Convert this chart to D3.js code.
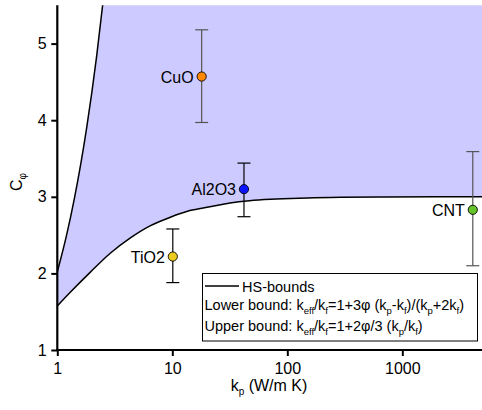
<!DOCTYPE html>
<html lang="en">
<head>
    <meta charset="UTF-8">
    <title>HS bounds</title>
    <script src="https://cdn.jsdelivr.net/npm/d3@7"></script>
    <style>
        body { margin: 0; background: #fff; }
        text { font-family: "Liberation Sans", Arial, sans-serif; fill: #000; }
    </style>
</head>
<body>
    <script>
        // lower HS bound
        var lowerKp = [1, 1.29, 1.92, 2.87, 4.29, 6.4, 9.5, 14.2, 21.2, 31.7, 47, 80, 150, 300, 700, 2000, 5000];
        var lowerC = [1.575, 1.75, 2.01, 2.26, 2.46, 2.62, 2.73, 2.82, 2.87, 2.92, 2.95, 2.97, 2.985, 2.993, 2.997, 3.0, 3.0];

        // upper HS bound
        var upperKp = [1, 1.2, 1.4, 1.6, 1.8, 2.0, 2.2, 2.5];
        var upperC = [2.02, 2.49, 2.96, 3.43, 3.9, 4.37, 4.84, 5.55];

        // measured points
        var names = ['CuO', 'Al2O3', 'TiO2', 'CNT'];
        var kp = [18, 42, 10.1, 4100];
        var cphi = [4.57, 3.1, 2.22, 2.83];
        var errHigh = [5.18, 3.44, 2.58, 3.59];
        var errLow = [3.97, 2.74, 1.88, 2.1];
        var colors = ['#ff8800', '#0a14ff', '#eacb1e', '#66c42a'];
        var barColors = ['#555', '#000', '#000', '#555'];

        var yTicks = [1, 2, 3, 4, 5];
        var xTicks = [1, 10, 100, 1000];

        var w = 482, h = 410;

        var x = d3.scaleLog().domain([1, 5000]).range([57.3, 482.7]);
        var y = d3.scaleLinear().domain([1, 5.5]).range([350, 5.3]);

        var svg = d3.select('body').append('svg')
            .attr('width', w)
            .attr('height', h);

        svg.append('clipPath').attr('id', 'plot')
            .append('rect')
            .attr('x', x(1)).attr('y', y(5.5))
            .attr('width', x(5000) - x(1)).attr('height', y(1) - y(5.5));

        var lower = lowerKp.map(function(d, i) { return [d, lowerC[i]]; });
        var upper = upperKp.map(function(d, i) { return [d, upperC[i]]; });

        var line = d3.line()
            .x(function(d) { return x(d[0]); })
            .y(function(d) { return y(d[1]); })
            .curve(d3.curveMonotoneX);

        var g = svg.append('g').attr('clip-path', 'url(#plot)');

        // shaded region between the bounds
        var upPath = line(upper);
        var lowPath = line(lower.slice().reverse());
        g.append('path')
            .attr('d', upPath + 'L' + x(5000) + ',' + y(5.6) + 'L' + lowPath.slice(1) + 'Z')
            .attr('fill', '#cdcaff')
            .attr('stroke', 'none');

        g.append('path').attr('d', line(lower))
            .attr('fill', 'none').attr('stroke', '#000').attr('stroke-width', 1.5);
        g.append('path').attr('d', line(upper))
            .attr('fill', 'none').attr('stroke', '#000').attr('stroke-width', 1.5);

        //axes
        var xMinor = [];
        [1, 10, 100, 1000].forEach(function(dec) {
            [2, 4, 6, 8].forEach(function(m) {
                if (dec * m <= 5000) xMinor.push(dec * m);
            });
        });

        var xAxis = svg.append('g').attr('transform', 'translate(0,' + y(1) + ')');
        xAxis.call(d3.axisBottom(x).tickValues(xMinor).tickSize(4).tickFormat(''));
        xAxis.call(d3.axisBottom(x).tickValues(xTicks).tickSize(6).tickFormat(d3.format('d')));

        var yAxis = svg.append('g').attr('transform', 'translate(' + x(1) + ',0)');
        yAxis.call(d3.axisLeft(y).tickValues([1.5, 2.5, 3.5, 4.5]).tickSize(4).tickFormat(''));
        yAxis.call(d3.axisLeft(y).tickValues(yTicks).tickSize(6).tickFormat(d3.format('d')));

        xAxis.selectAll('.domain').remove();
        yAxis.selectAll('.domain').remove();
        svg.append('line')
            .attr('x1', x(1) - 1).attr('x2', x(5000)).attr('y1', y(1)).attr('y2', y(1))
            .attr('stroke', '#000').attr('stroke-width', 2.2);
        svg.append('line')
            .attr('x1', x(1)).attr('x2', x(1)).attr('y1', y(1) + 1).attr('y2', y(5.5))
            .attr('stroke', '#000').attr('stroke-width', 2.2);
        svg.selectAll('.tick line').attr('stroke-width', 2);
        svg.selectAll('.tick text').attr('font-size', '16px')
            .attr('font-family', '"Liberation Sans", Arial, sans-serif');
        xAxis.selectAll('.tick text').attr('dy', '0.95em');
        yAxis.selectAll('.tick text').attr('dx', '-0.1em');

        // text with subscripts: parts are [string, isSub]
        function richText(t, parts, subSize) {
            var shift = 0;
            parts.forEach(function(p) {
                var s = t.append('tspan').text(p[0]);
                if (p[1]) {
                    s.attr('font-size', subSize).attr('dy', 4 - shift);
                    shift = 4;
                } else if (shift) {
                    s.attr('dy', -shift);
                    shift = 0;
                }
            });
        }

        //axis titles
        var xt = svg.append('text')
            .attr('x', 269).attr('y', 391)
            .attr('text-anchor', 'middle')
            .attr('font-size', '16px');
        richText(xt, [['k'], ['p', 1], [' (W/m K)']], '10px');

        var yt = svg.append('text')
            .attr('transform', 'translate(22,182) rotate(-90)')
            .attr('text-anchor', 'middle')
            .attr('font-size', '16px');
        richText(yt, [['C'], ['\u03c6', 1]], '10px');

        //error bars and points
        var pts = svg.selectAll('g.pt')
            .data(names)
            .enter()
            .append('g')
            .attr('class', 'pt');

        pts.append('line')
            .attr('x1', function(d, i) { return x(kp[i]); })
            .attr('x2', function(d, i) { return x(kp[i]); })
            .attr('y1', function(d, i) { return y(errHigh[i]); })
            .attr('y2', function(d, i) { return y(errLow[i]); })
            .attr('stroke', function(d, i) { return barColors[i]; })
            .attr('stroke-width', 1.2);
        pts.append('line')
            .attr('x1', function(d, i) { return x(kp[i]) - 6.5; })
            .attr('x2', function(d, i) { return x(kp[i]) + 6.5; })
            .attr('y1', function(d, i) { return y(errHigh[i]); })
            .attr('y2', function(d, i) { return y(errHigh[i]); })
            .attr('stroke', function(d, i) { return barColors[i]; })
            .attr('stroke-width', 1.2);
        pts.append('line')
            .attr('x1', function(d, i) { return x(kp[i]) - 6.5; })
            .attr('x2', function(d, i) { return x(kp[i]) + 6.5; })
            .attr('y1', function(d, i) { return y(errLow[i]); })
            .attr('y2', function(d, i) { return y(errLow[i]); })
            .attr('stroke', function(d, i) { return barColors[i]; })
            .attr('stroke-width', 1.2);
        pts.append('circle')
            .attr('cx', function(d, i) { return x(kp[i]); })
            .attr('cy', function(d, i) { return y(cphi[i]); })
            .attr('r', 4.6)
            .attr('fill', function(d, i) { return colors[i]; })
            .attr('stroke', '#000')
            .attr('stroke-width', 0.9);
        pts.append('text')
            .attr('x', function(d, i) { return x(kp[i]) - 8; })
            .attr('y', function(d, i) { return y(cphi[i]) + 6; })
            .attr('text-anchor', 'end')
            .attr('font-size', '16px')
            .text(function(d) { return d; });

        //legend
        var lg = svg.append('g');
        lg.append('rect')
            .attr('x', 202.5).attr('y', 273.5)
            .attr('width', 275).attr('height', 67.5)
            .attr('fill', '#fff')
            .attr('stroke', '#000')
            .attr('stroke-width', 1);
        lg.append('line')
            .attr('x1', 205).attr('x2', 239).attr('y1', 286).attr('y2', 286)
            .attr('stroke', '#000').attr('stroke-width', 1.5);
        lg.append('text').attr('x', 242).attr('y', 291.5)
            .attr('font-size', '14.5px').text('HS-bounds');

        var lowT = lg.append('text').attr('x', 204.5).attr('y', 310).attr('font-size', '14.5px');
        richText(lowT, [['Lower bound: k'], ['eff', 1], ['/k'], ['f', 1], ['=1+3\u03c6 (k'], ['p', 1], ['-k'], ['f', 1],
            [')/(k'], ['p', 1], ['+2k'], ['f', 1], [')']], '9.5px');
        var upT = lg.append('text').attr('x', 204.5).attr('y', 331).attr('font-size', '14.5px');
        richText(upT, [['Upper bound: k'], ['eff', 1], ['/k'], ['f', 1], ['=1+2\u03c6/3 (k'], ['p', 1], ['/k'], ['f', 1], [')']], '9.5px');
    </script>
</body>
</html>
